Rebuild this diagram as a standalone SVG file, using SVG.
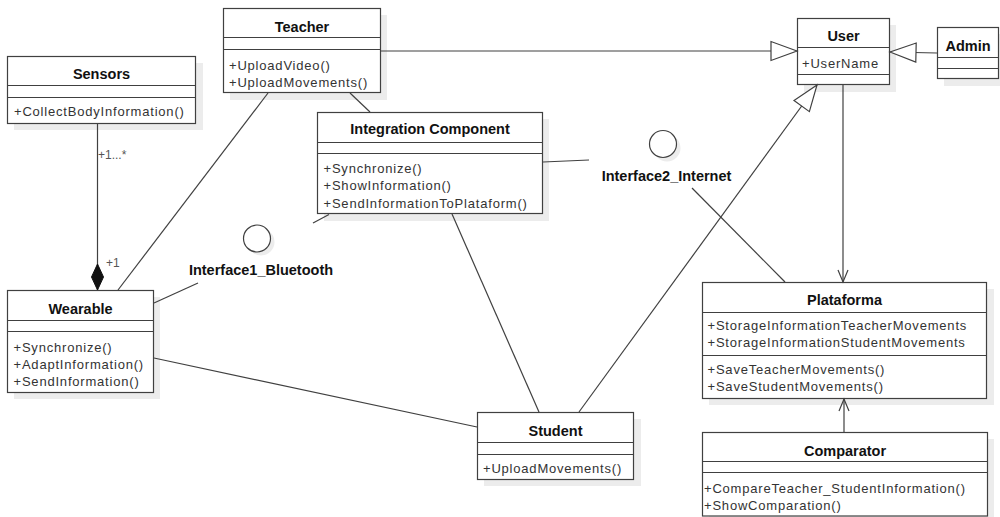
<svg xmlns="http://www.w3.org/2000/svg" width="1000" height="517" viewBox="0 0 1000 517">
<style>
.box{fill:#fff;stroke:#404040;stroke-width:1.2}
.sh{fill:#ececec}
.sep{stroke:#404040;stroke-width:1.2}
.t{font-family:"Liberation Sans",Arial,sans-serif;font-size:13px;letter-spacing:0.8px;fill:#333}
.h{font-family:"Liberation Sans",Arial,sans-serif;font-size:14.5px;font-weight:bold;fill:#111;text-anchor:middle}
.c{fill:none;stroke:#404040;stroke-width:1.2}
.ml{font-family:"Liberation Sans",Arial,sans-serif;font-size:12px;fill:#555}
</style>
<defs>
<marker id="gen" viewBox="-28 -12 30 24" markerWidth="30" markerHeight="24" refX="0" refY="0" orient="auto" markerUnits="userSpaceOnUse"><path d="M0,0 L-26,-9.5 L-26,9.5 Z" fill="#fff" stroke="#404040" stroke-width="1.2"/></marker>
<marker id="arr" viewBox="-14 -8 16 16" markerWidth="16" markerHeight="16" refX="0" refY="0" orient="auto" markerUnits="userSpaceOnUse"><path d="M-12,-5 L0,0 L-12,5" fill="none" stroke="#404040" stroke-width="1.2"/></marker>
<marker id="dia" viewBox="-28 -8 30 16" markerWidth="30" markerHeight="16" refX="0" refY="0" orient="auto" markerUnits="userSpaceOnUse"><path d="M0,0 L-13,-6 L-26,0 L-13,6 Z" fill="#111" stroke="#111" stroke-width="1"/></marker>
</defs>
<rect width="1000" height="517" fill="#fff"/>

<g id="interface1">
<circle cx="261" cy="242" r="13.5" fill="#ececec"/>
<circle cx="257" cy="238.5" r="13.5" fill="#fff" stroke="#404040" stroke-width="1.2"/>
<text class="h" x="261" y="274.5">Interface1_Bluetooth</text>
</g>
<g id="interface2">
<circle cx="667" cy="148" r="13.5" fill="#ececec"/>
<circle cx="663" cy="144" r="13.5" fill="#fff" stroke="#404040" stroke-width="1.2"/>
<text class="h" x="666.5" y="180.5">Interface2_Internet</text>
</g>

<g id="teacher">
<rect class="sh" x="230" y="15" width="157" height="85"/>
<rect class="box" x="223.5" y="8.5" width="157" height="84"/>
<line class="sep" x1="223.5" y1="37.5" x2="380.5" y2="37.5"/>
<line class="sep" x1="223.5" y1="49.5" x2="380.5" y2="49.5"/>
<text class="h" x="302" y="31.5">Teacher</text>
<text class="t" x="229" y="69.5">+UploadVideo()</text>
<text class="t" x="229" y="86.5">+UploadMovements()</text>
</g>

<g id="sensors">
<rect class="sh" x="14" y="63" width="189" height="67"/>
<rect class="box" x="7.5" y="56.5" width="188" height="67"/>
<line class="sep" x1="7.5" y1="85.5" x2="195.5" y2="85.5"/>
<line class="sep" x1="7.5" y1="97.5" x2="195.5" y2="97.5"/>
<text class="h" x="101.5" y="79">Sensors</text>
<text class="t" x="14" y="115.5">+CollectBodyInformation()</text>
</g>

<g id="user">
<rect class="sh" x="804" y="25" width="92" height="67"/>
<rect class="box" x="797.5" y="18.5" width="92" height="66"/>
<line class="sep" x1="797.5" y1="47.5" x2="889.5" y2="47.5"/>
<line class="sep" x1="797.5" y1="74.5" x2="889.5" y2="74.5"/>
<text class="h" x="843.5" y="41">User</text>
<text class="t" x="802" y="68">+UserName</text>
</g>

<g id="admin">
<rect class="sh" x="944" y="34" width="61" height="52"/>
<rect class="box" x="937.5" y="27.5" width="61" height="51"/>
<line class="sep" x1="937.5" y1="57.5" x2="998.5" y2="57.5"/>
<line class="sep" x1="937.5" y1="68.5" x2="998.5" y2="68.5"/>
<text class="h" x="968" y="50.5">Admin</text>
</g>

<g id="integration">
<rect class="sh" x="324" y="119" width="225" height="102"/>
<rect class="box" x="317.5" y="112.5" width="225" height="101"/>
<line class="sep" x1="317.5" y1="142.5" x2="542.5" y2="142.5"/>
<line class="sep" x1="317.5" y1="153.5" x2="542.5" y2="153.5"/>
<text class="h" x="430" y="134">Integration Component</text>
<text class="t" x="323.5" y="172.5">+Synchronize()</text>
<text class="t" x="323.5" y="190">+ShowInformation()</text>
<text class="t" x="323.5" y="207.5">+SendInformationToPlataform()</text>
</g>

<g id="wearable">
<rect class="sh" x="14" y="297" width="146" height="102"/>
<rect class="box" x="7.5" y="290.5" width="146" height="102"/>
<line class="sep" x1="7.5" y1="320.5" x2="153.5" y2="320.5"/>
<line class="sep" x1="7.5" y1="331.5" x2="153.5" y2="331.5"/>
<text class="h" x="80.5" y="313.5">Wearable</text>
<text class="t" x="13.5" y="352">+Synchronize()</text>
<text class="t" x="13.5" y="369">+AdaptInformation()</text>
<text class="t" x="13.5" y="386">+SendInformation()</text>
</g>

<g id="plataforma">
<rect class="sh" x="709" y="289" width="285" height="116"/>
<rect class="box" x="702.5" y="282.5" width="284" height="116"/>
<line class="sep" x1="702.5" y1="312.5" x2="986.5" y2="312.5"/>
<line class="sep" x1="702.5" y1="355.5" x2="986.5" y2="355.5"/>
<text class="h" x="844.5" y="305">Plataforma</text>
<text class="t" x="707.5" y="329.5">+StorageInformationTeacherMovements</text>
<text class="t" x="707.5" y="346.5">+StorageInformationStudentMovements</text>
<text class="t" x="707.5" y="374">+SaveTeacherMovements()</text>
<text class="t" x="707.5" y="391">+SaveStudentMovements()</text>
</g>

<g id="student">
<rect class="sh" x="484" y="419" width="157" height="67"/>
<rect class="box" x="477.5" y="412.5" width="156" height="67"/>
<line class="sep" x1="477.5" y1="442.5" x2="633.5" y2="442.5"/>
<line class="sep" x1="477.5" y1="454.5" x2="633.5" y2="454.5"/>
<text class="h" x="555.5" y="436">Student</text>
<text class="t" x="483" y="472.5">+UploadMovements()</text>
</g>

<g id="comparator">
<rect class="sh" x="709" y="439" width="285" height="84"/>
<rect class="box" x="702.5" y="432.5" width="285" height="83.5"/>
<line class="sep" x1="702.5" y1="461.5" x2="987.5" y2="461.5"/>
<line class="sep" x1="702.5" y1="472.5" x2="987.5" y2="472.5"/>
<text class="h" x="845" y="456">Comparator</text>
<text class="t" x="704" y="493">+CompareTeacher_StudentInformation()</text>
<text class="t" x="704" y="510">+ShowComparation()</text>
</g>

<g id="connectors">
<line class="c" x1="380.5" y1="51" x2="797" y2="51" marker-end="url(#gen)"/>
<line class="c" x1="937" y1="53" x2="890" y2="52" marker-end="url(#gen)"/>
<line class="c" x1="579" y1="412" x2="817" y2="85" marker-end="url(#gen)"/>
<line class="c" x1="843" y1="85" x2="843" y2="282" marker-end="url(#arr)"/>
<line class="c" x1="844" y1="432" x2="844" y2="399" marker-end="url(#arr)"/>
<line class="c" x1="97.5" y1="124" x2="97.5" y2="290" marker-end="url(#dia)"/>
<line class="c" x1="268" y1="93" x2="118" y2="290"/>
<line class="c" x1="350" y1="93" x2="370" y2="112"/>
<line class="c" x1="543" y1="162" x2="589" y2="160"/>
<line class="c" x1="692" y1="188" x2="785" y2="282"/>
<line class="c" x1="452" y1="214" x2="539" y2="412"/>
<line class="c" x1="329" y1="214.5" x2="313" y2="223"/>
<line class="c" x1="154" y1="303" x2="198" y2="283"/>
<line class="c" x1="154" y1="358" x2="477" y2="427"/>
<text class="ml" x="98" y="159">+1...*</text>
<text class="ml" x="106" y="267">+1</text>
</g>
</svg>
